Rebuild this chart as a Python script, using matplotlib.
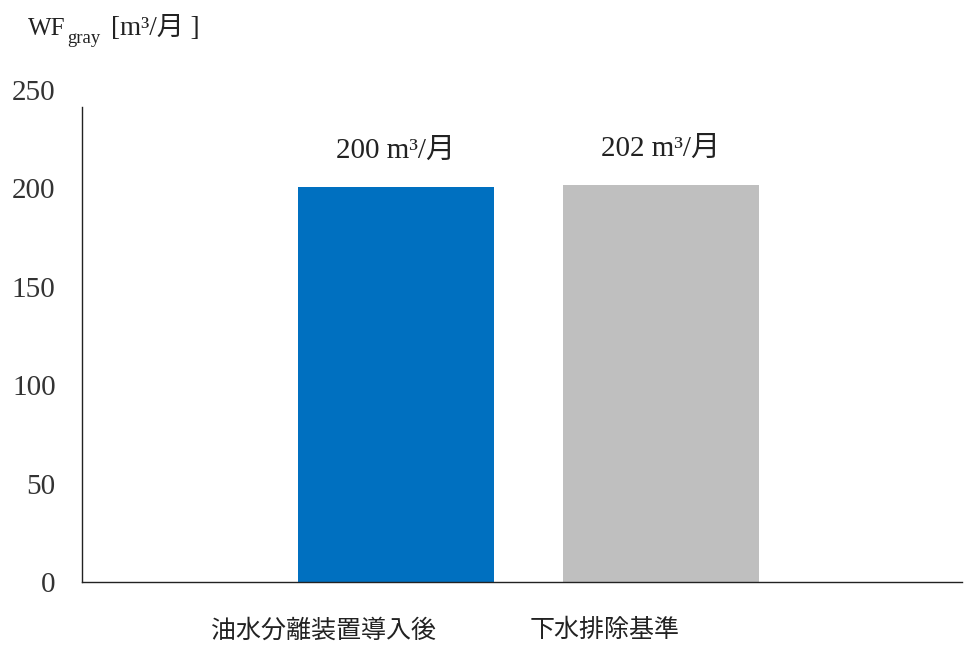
import matplotlib
matplotlib.use("Agg")
import matplotlib.pyplot as plt

plt.rcParams['font.family'] = ['Liberation Serif', 'Noto Sans CJK JP']

categories = ['油水分離装置導入後', '下水排除基準']
values = [200.5, 201.5]
value_labels = ['200 m³/月', '202 m³/月']
colors = ['#0070C0', '#BFBFBF']
yticks = [0, 50, 100, 150, 200, 250]

fig = plt.figure(figsize=(9.64, 6.54), dpi=100)
ax = fig.add_axes([82/964, 72/654, 880/964, 492/654])

x = list(range(len(categories)))
ax.bar(x, values, width=0.741, color=colors)

ax.set_xlim(-1.187, 2.139)
ax.set_ylim(0, 250)
ax.set_yticks(yticks)
ax.set_yticklabels([str(v) for v in yticks], fontsize=21, color='#333333')
ax.tick_params(axis='y', length=0, pad=19)
ax.set_xticks([])

for s in ['top', 'right']:
    ax.spines[s].set_visible(False)
for s in ['left', 'bottom']:
    ax.spines[s].set_color('#222222')
    ax.spines[s].set_linewidth(1.0)
ax.spines['left'].set_bounds(0, 241.5)

for xi, v, lab in zip(x, values, value_labels):
    ax.annotate(lab, (xi, v), xytext=(0, 21), textcoords='offset points',
                ha='center', va='baseline', fontsize=21, color='#222222')

label_shift = [-0.273, -0.212]
for xi, c, sh in zip(x, categories, label_shift):
    ax.annotate(c, (xi + sh, 0), xytext=(0, -35), textcoords='offset points',
                ha='center', va='center', fontsize=18, color='#222222',
                annotation_clip=False)

# title built from pieces: WF, subscript "gray", then unit
t1 = fig.text(28/964, 1 - 35/654, 'WF', fontsize=18, color='#222222',
              ha='left', va='baseline')
fig.canvas.draw()
r = fig.canvas.get_renderer()
bb = t1.get_window_extent(r)
t2 = fig.text(bb.x1 / fig.bbox.width + 2/964, 1 - 43/654, 'gray', fontsize=13.5,
              color='#222222', ha='left', va='baseline')
fig.canvas.draw()
bb2 = t2.get_window_extent(r)
fig.text(bb2.x1 / fig.bbox.width + 10/964, 1 - 35/654, '[m³/月 ]', fontsize=19.5,
         color='#222222', ha='left', va='baseline')

fig.savefig('out.png', dpi=100, facecolor='white')
